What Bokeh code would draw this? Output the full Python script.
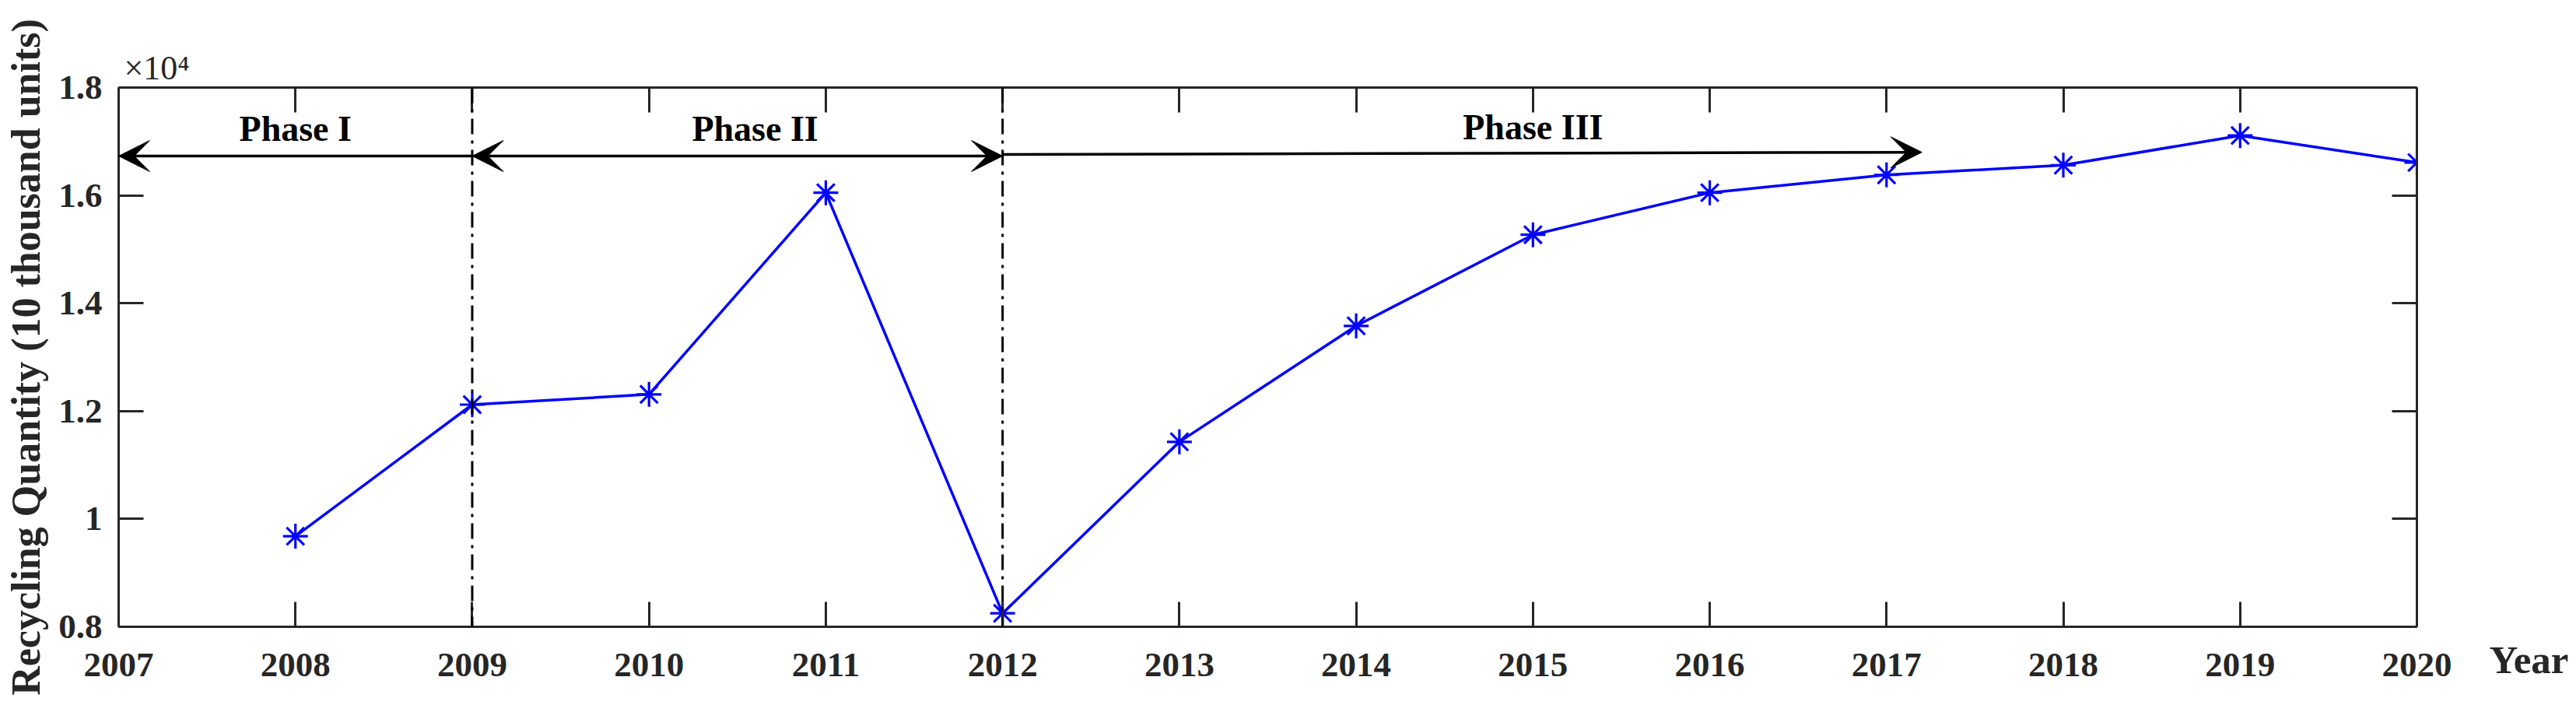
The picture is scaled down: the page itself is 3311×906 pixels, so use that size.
from bokeh.plotting import figure
from bokeh.models import Range1d, LinearAxis, FixedTicker, Span, Arrow, VeeHead, Label, Title
from bokeh.embed import file_html
from bokeh.resources import INLINE

# ---- data (values in units; axis shows x10^4) ----
years = [2008, 2009, 2010, 2011, 2012, 2013, 2014, 2015, 2016, 2017, 2018, 2019, 2020]
quantity = [9680, 12120, 12310, 16050, 8250, 11430, 13580, 15270, 16050, 16380, 16560, 17110, 16610]

x_ticks = [2007, 2008, 2009, 2010, 2011, 2012, 2013, 2014, 2015, 2016, 2017, 2018, 2019, 2020]
y_ticks = [8000, 10000, 12000, 14000, 16000, 18000]
y_tick_labels = ["0.8", "1", "1.2", "1.4", "1.6", "1.8"]
x_name = "Year"
y_name = "Recycling Quantity (10 thousand units)"
y_exponent = "\u00d710\u2074"

phase_names = ["Phase I", "Phase II", "Phase III"]
phase_label_x = [2008, 2010.6, 2015]
phase_label_y = [17235, 17235, 17260]
phase_arrow_x_start = [2009, 2009, 2012]
phase_arrow_x_end = [2007, 2012, 2017.2]
phase_arrow_y_start = [16730, 16730, 16760]
phase_arrow_y_end = [16730, 16730, 16800]
phase_arrow_heads = ["end", "both", "end"]
phase_boundaries = [2009, 2012]

FONT = "Liberation Serif"
AX = "#262626"

p = figure(width=3311, height=906, output_backend="svg", toolbar_location=None,
           x_range=Range1d(2007, 2020), y_range=Range1d(8000, 18000),
           min_border_left=152, min_border_right=205, min_border_top=112, min_border_bottom=101,
           background_fill_color="white", border_fill_color="white")
p.outline_line_color = None
p.grid.visible = False

def style_axis(ax):
    ax.axis_line_color = AX
    ax.axis_line_width = 3
    ax.major_tick_line_color = AX
    ax.major_tick_line_width = 3
    ax.major_tick_in = 32
    ax.major_tick_out = 0
    ax.minor_tick_line_color = None
    ax.major_label_text_font = FONT
    ax.major_label_text_font_style = "bold"
    ax.major_label_text_font_size = "45px"
    ax.major_label_text_color = AX

xb = p.xaxis[0]
xb.ticker = FixedTicker(ticks=x_ticks)
style_axis(xb)
xb.major_label_standoff = 34

yl = p.yaxis[0]
yl.ticker = FixedTicker(ticks=y_ticks)
yl.major_label_overrides = {t: s for t, s in zip(y_ticks, y_tick_labels)}
style_axis(yl)
yl.major_label_standoff = 21
yl.axis_label = y_name
yl.axis_label_text_font = FONT
yl.axis_label_text_font_style = "bold"
yl.axis_label_text_font_size = "52px"
yl.axis_label_text_color = AX
yl.axis_label_standoff = 10

# box axes (top / right) carrying ticks only
xt = LinearAxis(ticker=FixedTicker(ticks=x_ticks))
style_axis(xt)
xt.major_label_overrides = {t: "" for t in x_ticks}
xt.major_label_text_font_size = "0px"
xt.major_label_standoff = 0
p.add_layout(xt, "above")

yr = LinearAxis(ticker=FixedTicker(ticks=y_ticks))
style_axis(yr)
yr.major_label_overrides = {t: "" for t in y_ticks}
yr.major_label_text_font_size = "0px"
yr.major_label_standoff = 0
p.add_layout(yr, "right")

# x-axis name to the right of the last tick label: a label-only right axis,
# the name on a second line so that it sits below the bottom of the box
ya = LinearAxis(ticker=FixedTicker(ticks=[y_ticks[0]]))
ya.major_label_overrides = {y_ticks[0]: "\n" + x_name}
ya.axis_line_color = None
ya.major_tick_line_color = None
ya.minor_tick_line_color = None
ya.major_label_standoff = 87
ya.major_label_text_font = FONT
ya.major_label_text_font_style = "bold"
ya.major_label_text_font_size = "51px"
ya.major_label_text_line_height = 1.5
ya.major_label_text_color = AX
p.add_layout(ya, "right")

# exponent above the left end of the box
p.add_layout(Title(text=y_exponent, align="left", offset=7, standoff=2,
                   text_font=FONT, text_font_style="normal", text_font_size="44px",
                   text_color=AX), "above")

# phase boundaries
for b in phase_boundaries:
    p.add_layout(Span(location=b, dimension="height", line_color="black",
                      line_width=3, line_dash="20 8 4 8"))

# data line
p.line(years, quantity, line_color="#0000FF", line_width=3.5)
p.scatter(years, quantity, marker="asterisk", size=32, line_color="#0000FF",
          line_width=3.2, fill_color=None)

# phase arrows
def head():
    return VeeHead(size=40, fill_color="black", line_color="black", line_width=1)

for xs, xe, ys, ye, h in zip(phase_arrow_x_start, phase_arrow_x_end,
                             phase_arrow_y_start, phase_arrow_y_end, phase_arrow_heads):
    arr = Arrow(x_start=xs, y_start=ys, x_end=xe, y_end=ye,
                line_color="black", line_width=3.5,
                start=head() if h == "both" else None, end=head())
    p.add_layout(arr)

for name, lx, ly in zip(phase_names, phase_label_x, phase_label_y):
    p.add_layout(Label(x=lx, y=ly, text=name, text_align="center", text_baseline="middle",
                       text_font=FONT, text_font_style="bold", text_font_size="46px",
                       text_color="black"))

open("out.html", "w").write(file_html(p, INLINE))
